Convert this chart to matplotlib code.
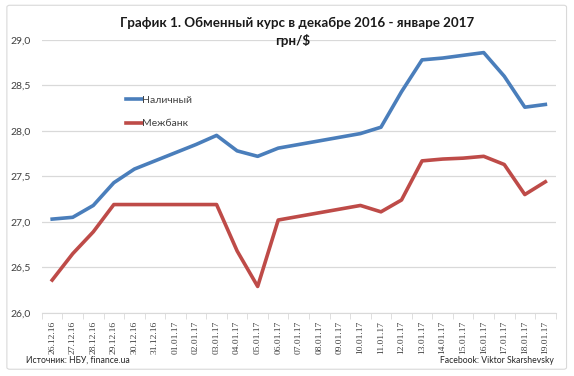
import matplotlib.pyplot as plt
from matplotlib.patches import FancyBboxPatch
from matplotlib.ticker import FuncFormatter
import numpy as np

plt.rcParams['font.family'] = ['Lato', 'DejaVu Sans']

dates = ['26.12.16', '27.12.16', '28.12.16', '29.12.16', '30.12.16', '31.12.16',
         '01.01.17', '02.01.17', '03.01.17', '04.01.17', '05.01.17', '06.01.17',
         '07.01.17', '08.01.17', '09.01.17', '10.01.17', '11.01.17', '12.01.17',
         '13.01.17', '14.01.17', '15.01.17', '16.01.17', '17.01.17', '18.01.17',
         '19.01.17']
# cash rate
cash = [27.03, 27.05, 27.18, 27.43, 27.58, 27.67, 27.76, 27.85, 27.95, 27.78,
        27.72, 27.81, 27.85, 27.89, 27.93, 27.97, 28.04, 28.43, 28.78, 28.80,
        28.83, 28.86, 28.60, 28.26, 28.29]
# interbank rate
interbank = [26.36, 26.65, 26.89, 27.19, 27.19, 27.19, 27.19, 27.19, 27.19, 26.68,
             26.29, 27.02, 27.06, 27.10, 27.14, 27.18, 27.11, 27.24, 27.67, 27.69,
             27.70, 27.72, 27.63, 27.30, 27.44]

blue = '#4a7ebb'
red = '#be4b48'
grid = '#d9d9d9'

fig = plt.figure(figsize=(5.74, 3.76), dpi=100)
ax = fig.add_axes([0.073, 0.168, 0.895, 0.726])

# outer chart frame
fig.patches.append(FancyBboxPatch((0.012, 0.018), 0.975, 0.968,
                                  boxstyle='round,pad=0,rounding_size=0.005',
                                  transform=fig.transFigure, fill=False,
                                  edgecolor='#d9d9d9', linewidth=0.8))

x = np.arange(len(dates))
ax.plot(x, cash, color=blue, linewidth=2.6, label='Наличный', solid_joinstyle='round')
ax.plot(x, interbank, color=red, linewidth=2.6, label='Межбанк', solid_joinstyle='round')

ax.set_xlim(-0.5, len(dates) - 0.5)
ax.set_ylim(26.0, 29.0)
ax.set_yticks(np.arange(26.0, 29.01, 0.5))
ax.yaxis.set_major_formatter(FuncFormatter(lambda v, p: '{:.1f}'.format(v).replace('.', ',')))
ax.grid(axis='y', color=grid, linewidth=0.9)
ax.set_axisbelow(True)

ax.set_xticks(x)
ax.set_xticklabels(dates, rotation=90, fontsize=6.8, color='#404040',
                   family=['Liberation Serif', 'DejaVu Serif'])
ax.set_xticks(np.arange(-0.5, len(dates), 1), minor=True)
ax.tick_params(axis='x', which='major', length=0, pad=6)
ax.tick_params(axis='x', which='minor', length=4, color=grid)
ax.tick_params(axis='y', length=0, labelsize=7.5, colors='#404040', pad=8)

for s in ['top', 'right', 'left']:
    ax.spines[s].set_visible(False)
ax.spines['bottom'].set_color(grid)

leg = ax.legend(loc='upper left', bbox_to_anchor=(0.145, 0.83), frameon=False,
                fontsize=7.5, handlelength=1.6, handletextpad=0.0, labelspacing=1.35)
for t in leg.get_texts():
    t.set_color('#404040')

fig.text(0.518, 0.94, 'График 1. Обменный курс в декабре 2016 - январе 2017',
         ha='center', va='center', fontsize=9.6, fontweight='bold', color='#1a1a1a')
fig.text(0.51, 0.893, 'грн/$', ha='center', va='center', fontsize=9.6,
         fontweight='bold', color='#1a1a1a')

fig.text(0.045, 0.035, 'Источник: НБУ, finance.ua', fontsize=6.2, color='#262626')
fig.text(0.965, 0.035, 'Facebook: Viktor Skarshevsky', fontsize=6.2, color='#262626', ha='right')

fig.savefig('out.png', dpi=100)
